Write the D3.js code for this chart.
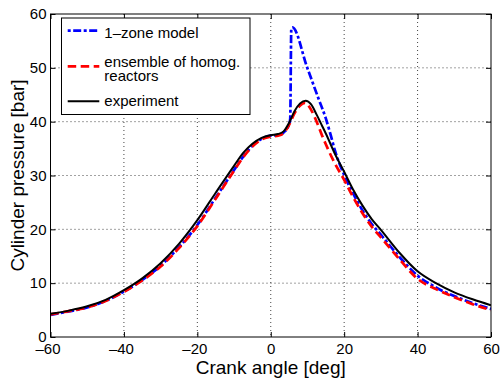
<!DOCTYPE html>
<html><head><meta charset="utf-8">
<script src="https://cdn.jsdelivr.net/npm/d3@7"></script>
<style>
html,body{margin:0;padding:0;background:#fff;}
svg text{font-family:"Liberation Sans",Arial,Helvetica,sans-serif;fill:#000;}
</style></head>
<body>
<svg id="chart" width="502" height="378"></svg>
<script>
// ---- data ----
const xTicks = [-60, -40, -20, 0, 20, 40, 60];
const yTicks = [0, 10, 20, 30, 40, 50, 60];
const seriesNames = ["1\u2013zone model", "ensemble of homog.|reactors", "experiment"];

const angleExp = [-60,-55,-50,-45,-40,-35,-30,-25,-20,-15,-10,-7.5,-5,-2.5,0,2,3.5,5,6.5,8,9.5,11,12.5,14,15,17.5,20,22.5,25,27.5,30,35,40,45,50,55,60];
const pressureExp = [4.3,4.9,5.7,6.9,8.7,10.9,13.7,17.3,21.7,26.8,31.8,34.2,35.9,37.0,37.5,37.7,38.2,39.8,42.0,43.4,43.9,43.2,41.3,39.2,37.8,34.0,30.7,27.3,24.4,21.9,19.9,15.7,12.2,10.0,8.3,7.0,5.9];

const angleEns = [-60,-55,-50,-45,-40,-35,-30,-25,-20,-15,-10,-7.5,-5,-2.5,0,2,3.5,5,6.5,8,9.3,11,12.5,14,15,17.5,20,22.5,25,27.5,30,35,40,45,50,55,60];
const pressureEns = [4.2,4.8,5.5,6.7,8.4,10.5,13.1,16.5,20.6,25.7,30.9,33.4,35.4,36.7,37.2,37.4,37.9,39.4,41.6,43.0,43.5,42.2,40.0,37.4,35.8,32.2,29.2,25.9,23.0,20.5,18.5,14.5,10.8,8.9,7.4,6.1,5.0];

const angle1z = [-60,-55,-50,-45,-40,-35,-30,-25,-20,-15,-10,-7.5,-5,-2.5,0,2,3.5,5,5.3,5.6,5.9,9.9,13,15,16.3,17.5,20,22.5,25,27.5,30,35,40,45,50,55,60];
const pressure1z = [4.1,4.75,5.5,6.7,8.45,10.6,13.25,16.7,20.8,25.9,31.0,33.5,35.5,36.8,37.4,37.5,38.0,39.5,40.5,57.3,57.5,50.1,44.3,40.6,37.6,34.6,30.1,26.6,23.5,21.0,19.0,14.9,11.4,9.2,7.6,6.3,5.2];

// ---- layout ----
const svg = d3.select("#chart");
const L = 50.5, R = 491, T = 14, B = 337;
const x = d3.scaleLinear().domain([-60, 60]).range([L, R]);
const y = d3.scaleLinear().domain([0, 60]).range([B, T]);

// grid
const grid = svg.append("g").attr("stroke", "#444").attr("stroke-width", 1).attr("stroke-dasharray", "1,3");
xTicks.slice(1, -1).forEach(t => grid.append("line").attr("x1", x(t)).attr("x2", x(t)).attr("y1", T).attr("y2", B));
yTicks.slice(1, -1).forEach(t => grid.append("line").attr("x1", L).attr("x2", R).attr("y1", y(t)).attr("y2", y(t)));

// axes with inward ticks (all four sides)
const fmt = d => d < 0 ? "\u2013" + Math.abs(d) : String(d);
const axB = svg.append("g").attr("transform", `translate(0,${B})`)
  .call(d3.axisBottom(x).tickValues(xTicks).tickFormat(fmt).tickSizeInner(-5).tickSizeOuter(0).tickPadding(6.5));
const axT = svg.append("g").attr("transform", `translate(0,${T})`)
  .call(d3.axisTop(x).tickValues(xTicks).tickFormat("").tickSizeInner(-5).tickSizeOuter(0));
const axL = svg.append("g").attr("transform", `translate(${L},0)`)
  .call(d3.axisLeft(y).tickValues(yTicks).tickFormat(fmt).tickSizeInner(-5).tickSizeOuter(0).tickPadding(4));
const axR = svg.append("g").attr("transform", `translate(${R},0)`)
  .call(d3.axisRight(y).tickValues(yTicks).tickFormat("").tickSizeInner(-5).tickSizeOuter(0));
[axB, axT, axL, axR].forEach(a => {
  a.select(".domain").remove();
  a.selectAll("line").attr("stroke", "#000");
  a.selectAll("text").attr("font-size", 15).attr("font-family", "Liberation Sans, Arial, sans-serif");
});
axB.selectAll("text").attr("dx", d => d < 0 ? -3 : 0);

// lines
const mk = (xs, ys) => xs.map((a, i) => [a, ys[i]]);
const line = d3.line().x(d => x(d[0])).y(d => y(d[1])).curve(d3.curveMonotoneX);
svg.append("clipPath").attr("id", "clp").append("rect").attr("x", L).attr("y", T).attr("width", R - L).attr("height", B - T);
const plot = svg.append("g").attr("clip-path", "url(#clp)");
plot.append("path").attr("d", line(mk(angle1z, pressure1z))).attr("fill", "none")
  .attr("stroke", "#0000ff").attr("stroke-width", 2.7).attr("stroke-dasharray", "8,2.5,3,2.5");
plot.append("path").attr("d", line(mk(angleEns, pressureEns))).attr("fill", "none")
  .attr("stroke", "#ff0000").attr("stroke-width", 2.7).attr("stroke-dasharray", "8.5,4.5");
plot.append("path").attr("d", line(mk(angleExp, pressureExp))).attr("fill", "none")
  .attr("stroke", "#000").attr("stroke-width", 2);

// frame
svg.append("rect").attr("x", L).attr("y", T).attr("width", R - L).attr("height", B - T)
  .attr("fill", "none").attr("stroke", "#000").attr("stroke-width", 1);

// axis labels
svg.append("text").attr("x", (L + R) / 2).attr("y", 373.5).attr("text-anchor", "middle")
  .attr("font-size", 19).text("Crank angle [deg]");
svg.append("text").attr("transform", `translate(24,${(T + B) / 2}) rotate(-90)`).attr("text-anchor", "middle")
  .attr("font-size", 19).text("Cylinder pressure [bar]");

// legend
const lg = svg.append("g");
lg.append("rect").attr("x", 61.5).attr("y", 18).attr("width", 188.5).attr("height", 96.5)
  .attr("fill", "#fff").attr("stroke", "#000").attr("stroke-width", 1);
const legendItems = [
  {name: seriesNames[0], color: "#0000ff", dash: "3,2.5,8,2.5", w: 2.7, ly: 30.7, ty: [38]},
  {name: seriesNames[1], color: "#ff0000", dash: "8.5,4.5", w: 2.7, ly: 66.3, ty: [67, 81]},
  {name: seriesNames[2], color: "#000", dash: null, w: 2, ly: 101.3, ty: [105.7]}
];
legendItems.forEach(it => {
  lg.append("line").attr("x1", 67.7).attr("x2", 99.3).attr("y1", it.ly).attr("y2", it.ly)
    .attr("stroke", it.color).attr("stroke-width", it.w).attr("stroke-dasharray", it.dash);
  it.name.split("|").forEach((p, i) => lg.append("text").attr("x", 104.3).attr("y", it.ty[i]).attr("font-size", 15).text(p));
});
</script>
</body></html>
